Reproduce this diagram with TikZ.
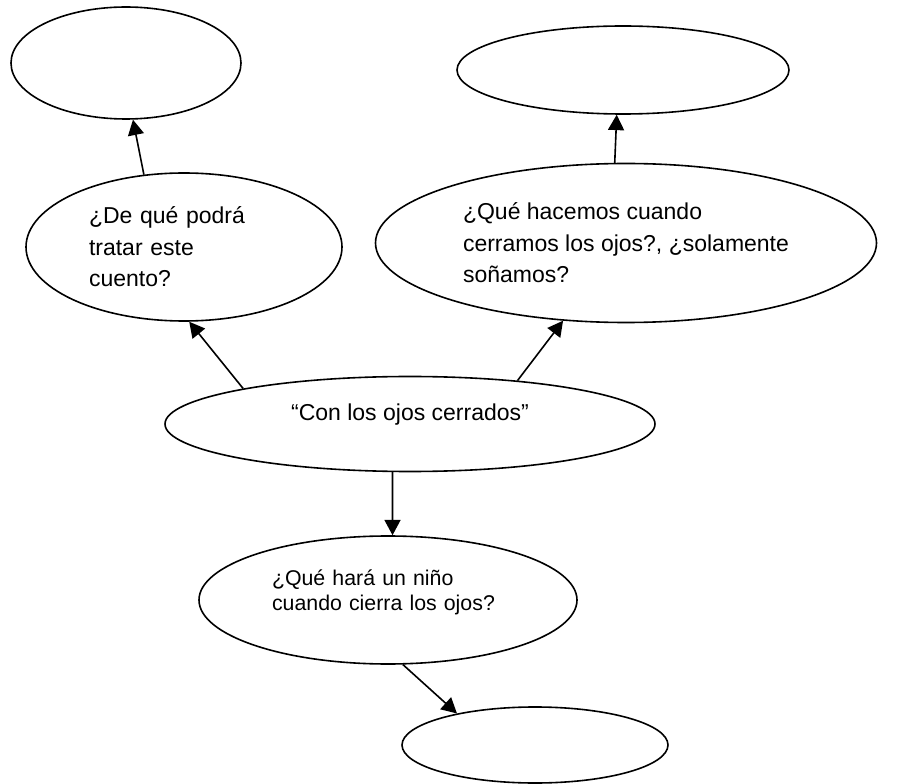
\documentclass[tikz,border=0pt]{standalone}
\usepackage{fontspec}
\setmainfont{Liberation Sans}
\usetikzlibrary{shapes.geometric,arrows.meta}

\begin{document}
\begin{tikzpicture}[x=0.75pt,y=-0.75pt,line width=1.2pt,>={Triangle[length=11.5pt,width=12pt]},
  every node/.style={draw,ellipse,inner sep=2pt,font=\fontsize{17.25pt}{23.6pt}\selectfont}]
\useasboundingbox (0,0) rectangle (904,784);
\node[minimum width=367.5pt,minimum height=71.25pt,text depth=17pt] (a) at (410,424) {“Con los ojos cerrados”};
\node[minimum width=237pt,minimum height=111pt,text width=142.5pt,align=left] (b) at (184,247) {¿De qué podrá\\ tratar este\\ cuento?};
\node[minimum width=375.75pt,minimum height=119.25pt,align=left] (c) at (626,243) {¿Qué hacemos cuando\\ cerramos los ojos?, ¿solamente\\ soñamos?};
\node[minimum width=283.5pt,minimum height=96pt,text width=174pt,align=left,text depth=33pt,
      font=\fontsize{16pt}{18.75pt}\selectfont] (d) at (388,600) {¿Qué hará un niño\\ cuando cierra los ojos?};
\node[minimum width=172.5pt,minimum height=84pt] (e) at (126,63)  {};
\node[minimum width=249pt,minimum height=66pt]   (f) at (623,70)  {};
\node[minimum width=199.5pt,minimum height=57pt] (g) at (535,745) {};
\draw[->] (b.119) -- (e.277);
\draw[->] (a.168) -- (b.274);
\draw[->] (a.22)  -- (c.231);
\draw[->] (c.98)  -- (f.262);
\draw[->] (a.250) -- (d.86);
\draw[->] (d.283) -- (g.158);
\end{tikzpicture}
\end{document}
